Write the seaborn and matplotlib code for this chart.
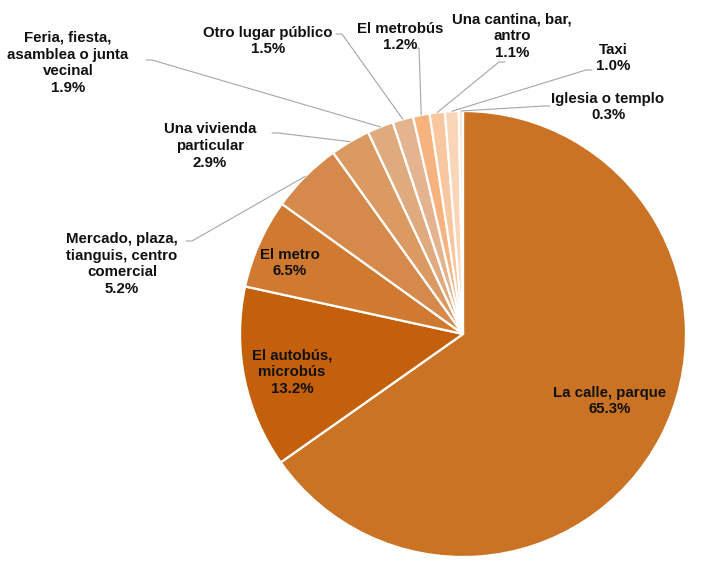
import matplotlib.pyplot as plt
import numpy as np
import seaborn as sns

# data
categories = ["La calle, parque", "El autobús,\nmicrobús", "El metro",
              "Mercado, plaza,\ntianguis, centro\ncomercial", "Una vivienda\nparticular",
              "Feria, fiesta,\nasamblea o junta\nvecinal", "Otro lugar público",
              "El metrobús", "Una cantina, bar,\nantro", "Taxi", "Iglesia o templo"]
values = [65.3, 13.2, 6.5, 5.2, 2.9, 1.9, 1.5, 1.2, 1.1, 1.0, 0.3]
colors = ["#CB7325", "#C4600B", "#D07A31", "#D5894A", "#DA9A62", "#DFAA7E",
          "#E3B48F", "#F6B37E", "#F8C7A0", "#FAD5B8", "#FCE3CF"]

# layout (pixel coords): label centre, inside flag, leader start
label_pos = [(610, 401), (292, 372), (290, 263), (122, 264), (210, 146),
             (68, 63), (268, 41), (400, 37), (512, 36), (613, 58), (608, 107)]
inside = [True, True, True] + [False] * 8
leader_start = [None, None, None, (186, 241), (272, 133), (146, 60), (336, 34),
                (413, 48), (505, 62), (592, 70), (550, 106)]

W, H = 720, 571
cx, cy, R = 463, 334, 223

sns.set_theme(style="white")
plt.rcParams["font.family"] = ["Liberation Sans", "DejaVu Sans"]

fig = plt.figure(figsize=(7.2, 5.71), dpi=100)
ax = fig.add_axes([0, 0, 1, 1])

wedges, _ = ax.pie(values, colors=colors, startangle=90, counterclock=False,
                   center=(cx, H - cy), radius=R,
                   wedgeprops=dict(edgecolor="white", linewidth=1.6))
ax.set_xlim(0, W)
ax.set_ylim(0, H)
ax.set_aspect("equal")
ax.axis("off")

for i, w in enumerate(wedges):
    txt = f"{categories[i]}\n{values[i]:.1f}%"
    lx, ly = label_pos[i]
    ax.text(lx, H - ly, txt, ha="center", va="center", fontsize=10.8,
            fontweight="bold", color="#111111", linespacing=1.25)
    if not inside[i]:
        mid = np.deg2rad((w.theta1 + w.theta2) / 2)
        ex = cx + R * np.cos(mid)
        ey = (H - cy) + R * np.sin(mid)
        sx, sy = leader_start[i]
        sy = H - sy
        hx = sx + (6 if sx < ex else -6)
        ax.plot([sx, hx, ex], [sy, sy, ey], color="#A6A6A6", lw=0.8)

fig.savefig("out.png", dpi=100)
